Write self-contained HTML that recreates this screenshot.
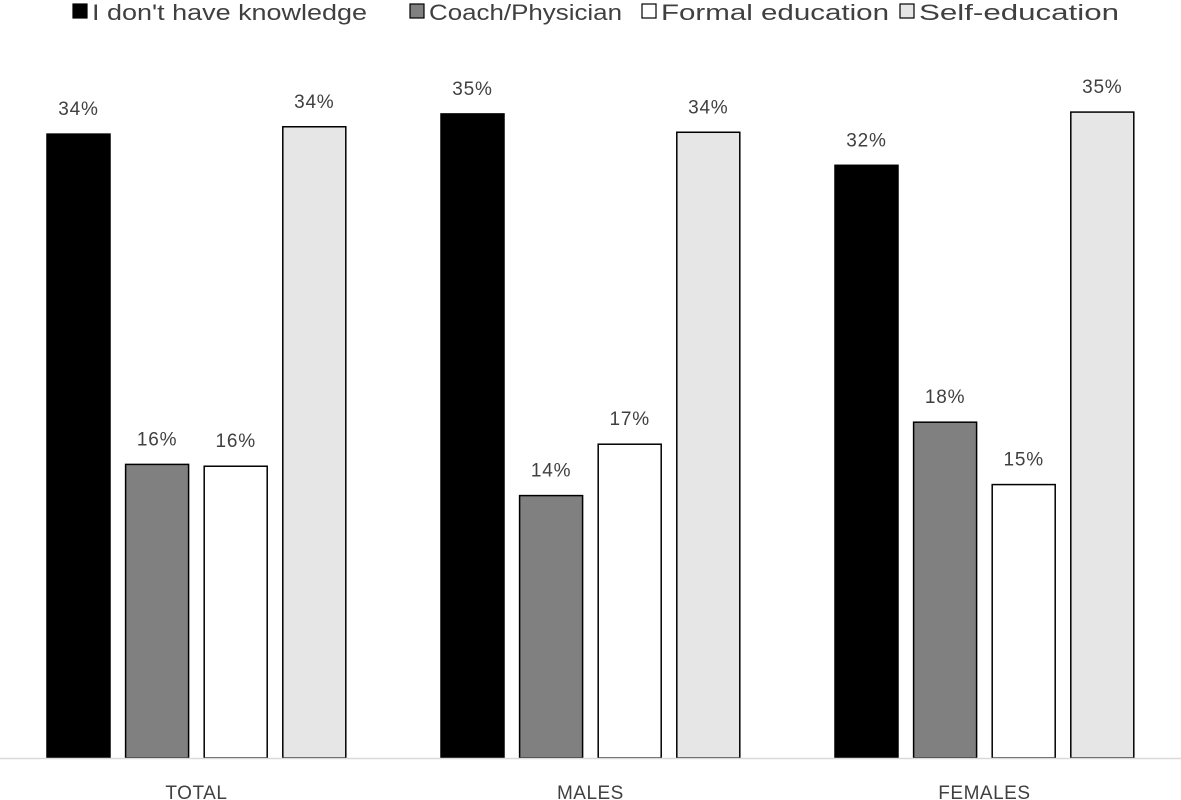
<!DOCTYPE html>
<html><head><meta charset="utf-8"><style>
body{margin:0;background:#fff;}
svg{display:block;font-family:"Liberation Sans",sans-serif;}
</style></head><body>
<svg id="chart" width="1181" height="800">
<g id="legend"></g>
<g id="bars"></g>
<line x1="0" y1="758.5" x2="1181" y2="758.5" stroke="#d9d9d9" stroke-width="1.5"/>
<g id="xlabels"></g>
</svg>
<script>
const categories = ["TOTAL", "MALES", "FEMALES"];
const seriesNames = ["I don't have knowledge", "Coach/Physician", "Formal education", "Self-education"];
const noKnowledge = [34.0, 35.1, 32.3];
const coach = [16.0, 14.3, 18.3];
const formal = [15.9, 17.1, 14.9];
const selfEdu = [34.4, 34.1, 35.2];
const seriesValues = [noKnowledge, coach, formal, selfEdu];
const fills = ["#000000", "#808080", "#ffffff", "#e6e6e6"];
const NS = "http://www.w3.org/2000/svg";
const baseY = 758, pxPer = 18.35, groupW = 394, barW = 63, step = 78.6, firstOff = 47;
function yScale(v){ return baseY - v * pxPer; }
function xBar(ci, si){ return firstOff + ci * groupW + si * step; }
const bars = document.getElementById('bars');
categories.forEach((c, ci) => {
  seriesValues.forEach((vals, si) => {
    const v = vals[ci];
    const r = document.createElementNS(NS, 'rect');
    r.setAttribute('x', xBar(ci, si)); r.setAttribute('y', yScale(v));
    r.setAttribute('width', barW); r.setAttribute('height', baseY - yScale(v));
    r.setAttribute('fill', fills[si]); r.setAttribute('stroke', '#000'); r.setAttribute('stroke-width', '1.5');
    
    
    bars.appendChild(r);
    const t = document.createElementNS(NS, 'text');
    t.setAttribute('x', xBar(ci, si) + barW / 2); t.setAttribute('y', yScale(v) - 19);
    t.setAttribute('text-anchor', 'middle'); t.setAttribute('font-size', '19'); t.setAttribute('fill', '#404040');
    t.setAttribute('letter-spacing', '0.8');
    t.textContent = Math.round(v) + '%';
    
    
    bars.appendChild(t);
  });
  const l = document.createElementNS(NS, 'text');
  l.setAttribute('x', firstOff + ci * groupW + (3 * step + barW) / 2); l.setAttribute('y', 799);
  l.setAttribute('text-anchor', 'middle'); l.setAttribute('font-size', '19'); l.setAttribute('fill', '#404040');
  l.setAttribute('letter-spacing', '0.5');
  l.textContent = c;
  
  
  document.getElementById('xlabels').appendChild(l);
});
const legX = [73, 410, 642, 900];
const legW = [275, 193, 228, 200];
const legend = document.getElementById('legend');
seriesNames.forEach((n, i) => {
  const g = document.createElementNS(NS, 'g');
  
  
  const s = document.createElementNS(NS, 'rect');
  s.setAttribute('x', legX[i]); s.setAttribute('y', 4); s.setAttribute('width', 14); s.setAttribute('height', 14);
  s.setAttribute('fill', fills[i]); s.setAttribute('stroke', '#000'); s.setAttribute('stroke-width', '1.2');
  g.appendChild(s);
  const t = document.createElementNS(NS, 'text');
  t.setAttribute('x', legX[i] + 19); t.setAttribute('y', 20); t.setAttribute('font-size', '22'); t.setAttribute('fill', '#404040');
  t.setAttribute('textLength', legW[i]); t.setAttribute('lengthAdjust', 'spacingAndGlyphs');
  t.textContent = n;
  g.appendChild(t);
  legend.appendChild(g);
});
</script>
</body></html>
